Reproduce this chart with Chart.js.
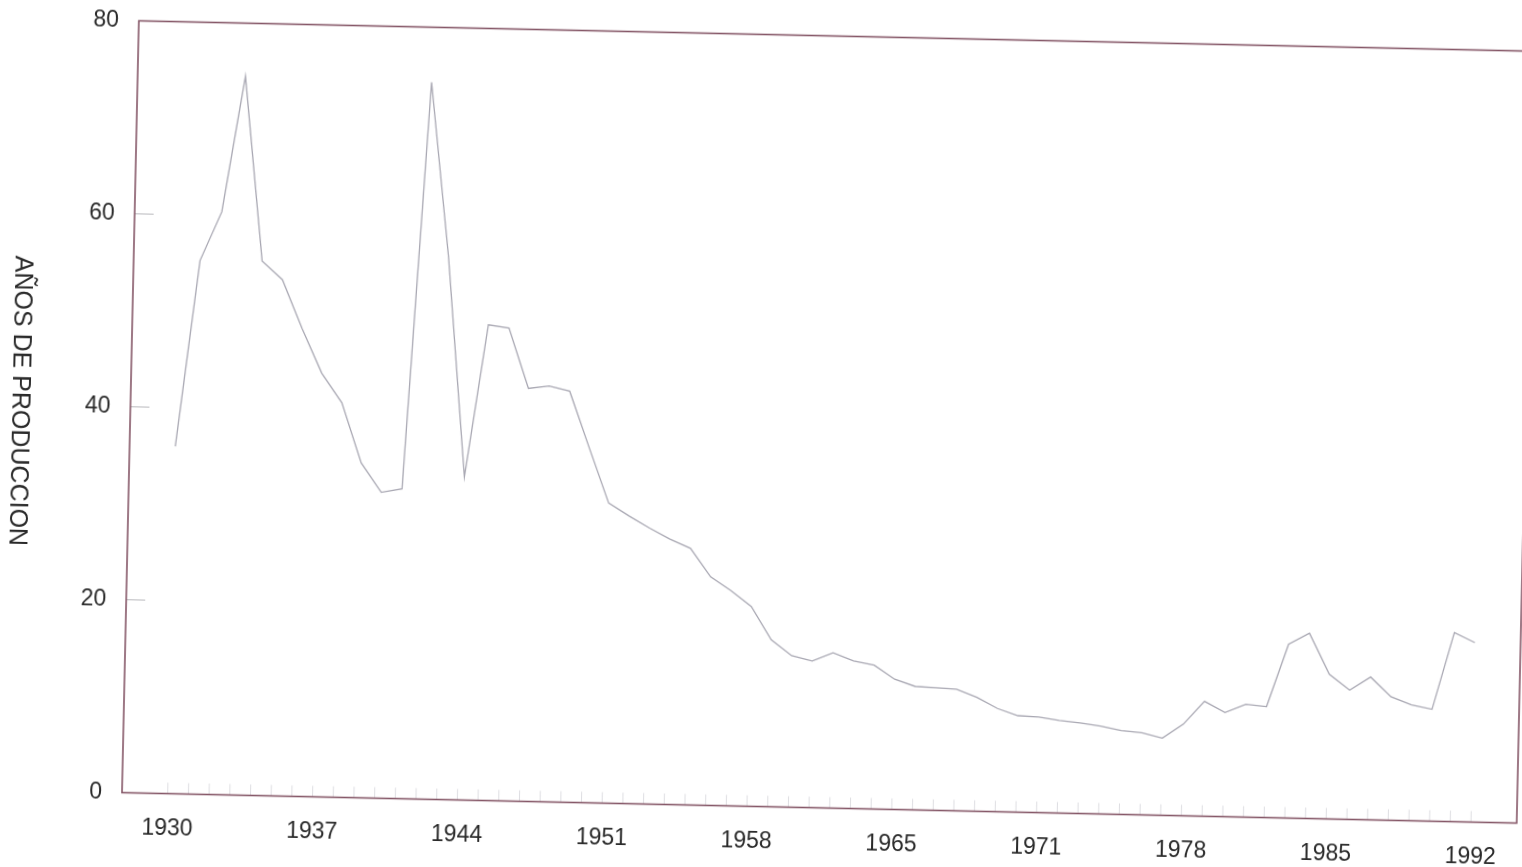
<!DOCTYPE html>
<html lang="es">
<head>
<meta charset="utf-8">
<title>Años de producción</title>
<script src="https://cdn.jsdelivr.net/npm/chart.js@4.4.1/dist/chart.umd.min.js"></script>
<style>
    html, body { margin: 0; padding: 0; background: #ffffff; overflow: hidden; }
    body { width: 1522px; height: 867px; position: relative; }
    #lienzo {
        position: absolute; left: 0; top: 0;
        width: 1560px; height: 880px;
        transform-origin: 761px 433.5px;
        transform: rotate(1.25deg);
    }
    #tituloY {
        position: absolute;
        left: 6px; top: 417px;
        transform: translateY(-50%);
        writing-mode: vertical-rl;
        font-family: "Liberation Sans", Arial, sans-serif;
        font-size: 25px;
        color: #2a2a2a;
        white-space: nowrap;
    }
</style>
</head>
<body>
<div id="lienzo">
    <canvas id="GraficoProduccion" width="1560" height="880"></canvas>
    <div id="tituloY">AÑOS DE PRODUCCION</div>
</div>

<script>
// === DATOS ===
// Etiquetas del eje horizontal, una cada 7 puntos de la serie
const etiquetasAnios = ['1930', '1937', '1944', '1951', '1958', '1965', '1971', '1978', '1985', '1992'];

// Años de producción (relación reservas / producción), un valor por punto
const aniosProduccion = [
    36.0, 55.3, 60.4, 74.5, 55.4, 53.5, 48.5, 43.9, 40.9, 34.7,
    31.7, 32.1, 74.3, 56.3, 33.5, 49.3, 49.0, 42.8, 43.1, 42.6,
    36.8, 31.1, 29.8, 28.6, 27.5, 26.6, 23.7, 22.3, 20.7, 17.3,
    15.7, 15.2, 16.1, 15.3, 14.9, 13.5, 12.8, 12.7, 12.6, 11.8,
    10.7, 10.0, 9.9, 9.6, 9.4, 9.1, 8.7, 8.5, 8.0, 9.5,
    11.9, 10.8, 11.7, 11.5, 18.0, 19.2, 15.0, 13.4, 14.8, 12.8,
    12.0, 11.6, 19.6, 18.6
];

// Marcas del eje vertical
const marcasY = [0, 20, 40, 60, 80];

const PASO_ETIQUETA = 7;

document.addEventListener('DOMContentLoaded', function() {
    const ctx = document.getElementById('GraficoProduccion');
    const fuente = { family: '"Liberation Sans", Arial, sans-serif', size: 23 };
    const colorTexto = '#2a2a2a';

    const puntos = aniosProduccion.map((v, i) => ({ x: i, y: v }));

    // Marco completo y pequeñas marcas interiores de los ejes
    const marcoPlugin = {
        id: 'marco',
        afterDraw(chart) {
            const { ctx: c, chartArea: a, scales } = chart;
            c.save();

            // marcas cortas hacia dentro en el eje Y
            c.strokeStyle = '#b9b9bd';
            c.lineWidth = 1;
            marcasY.slice(1, -1).forEach(v => {
                const y = scales.y.getPixelForValue(v);
                c.beginPath();
                c.moveTo(a.left, y);
                c.lineTo(a.left + 19, y);
                c.stroke();
            });

            // marcas por punto sobre el eje X
            c.strokeStyle = '#dedee2';
            aniosProduccion.forEach((_, i) => {
                const x = scales.x.getPixelForValue(i);
                c.beginPath();
                c.moveTo(x, a.bottom);
                c.lineTo(x, a.bottom - 11);
                c.stroke();
            });

            c.strokeStyle = '#865868';
            c.lineWidth = 1.6;
            c.strokeRect(a.left, a.top, a.right - a.left, a.bottom - a.top);
            c.restore();
        }
    };

    new Chart(ctx, {
        type: 'line',
        data: {
            datasets: [{
                data: puntos,
                borderColor: '#a9a8b3',
                borderWidth: 1.3,
                pointRadius: 0,
                tension: 0,
                fill: false
            }]
        },
        options: {
            responsive: false,
            animation: false,
            layout: { padding: { top: 34.5, right: 35, left: 0, bottom: 0 } },
            plugins: {
                legend: { display: false },
                tooltip: { enabled: false }
            },
            scales: {
                x: {
                    type: 'linear',
                    min: -2.21,
                    max: aniosProduccion.length - 1 + 2.21,
                    grid: { display: false },
                    border: { display: false },
                    afterBuildTicks: (scale) => {
                        scale.ticks = etiquetasAnios.map((_, k) => ({ value: k * PASO_ETIQUETA }));
                    },
                    afterFit: (scale) => { scale.height = 73.5; },
                    ticks: {
                        autoSkip: false,
                        maxRotation: 0,
                        padding: 13,
                        labelOffset: 0,
                        color: colorTexto,
                        font: fuente,
                        callback: (value) => etiquetasAnios[Math.round(value / PASO_ETIQUETA)]
                    }
                },
                y: {
                    min: 0,
                    max: 80,
                    grid: { display: false },
                    border: { display: false },
                    afterBuildTicks: (scale) => {
                        scale.ticks = marcasY.map(v => ({ value: v }));
                    },
                    afterFit: (scale) => { scale.width = 130; },
                    ticks: {
                        padding: 12,
                        color: colorTexto,
                        font: fuente
                    }
                }
            }
        },
        plugins: [marcoPlugin]
    });
});
</script>
</body>
</html>
